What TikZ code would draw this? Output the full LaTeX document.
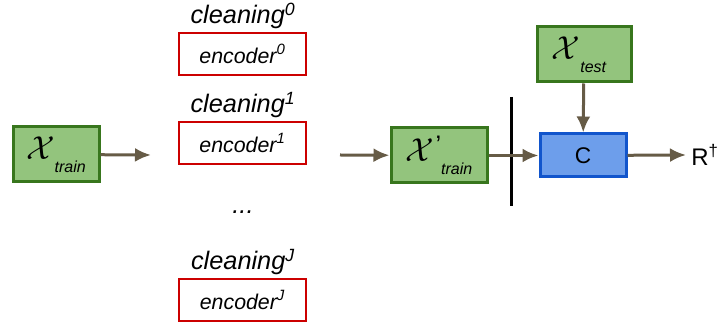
\documentclass[tikz,border=0pt]{standalone}
\usepackage{fontspec}
\setmainfont{Liberation Sans}
\usetikzlibrary{arrows.meta}

\newlength{\du}
\setlength{\du}{0.75pt}

\definecolor{datafill}{HTML}{93C47D}
\definecolor{dataline}{HTML}{38761D}
\definecolor{encline}{HTML}{CC0000}
\definecolor{clffill}{HTML}{6D9EEB}
\definecolor{clfline}{HTML}{1155CC}
\definecolor{flowcolor}{RGB}{102,91,70}

\newcommand{\dataset}[2]{{\fontsize{27}{27}\selectfont$\mathcal{X}$}#1\raisebox{-10pt}{\fontsize{12}{12}\selectfont\itshape #2}}

\tikzset{
  databox/.style={draw=dataline, fill=datafill, line width=3\du, inner sep=0pt},
  encbox/.style={draw=encline, line width=2.5\du, minimum width=127\du, minimum height=42\du,
    inner sep=0pt, font=\fontsize{16}{16}\selectfont\itshape},
  steplabel/.style={font=\fontsize{19}{19}\selectfont\itshape, inner sep=0pt},
  clfbox/.style={draw=clfline, fill=clffill, line width=3\du, minimum width=86\du, minimum height=43\du,
    inner sep=0pt, font=\fontsize{17}{17}\selectfont},
  flow/.style={draw=flowcolor, line width=3\du, -{Latex[length=12pt, width=10.5pt]}}
}

\begin{document}
\begin{tikzpicture}
\useasboundingbox (0\du,0\du) rectangle (719\du,-327\du);
\pgftransformyscale{-1.000000}

% input data
\node[databox, minimum width=86\du, minimum height=55\du] (xtrain) at (56\du,154.5\du) {\dataset{}{train}};

% cleaning steps
\node[steplabel] (clean0) at (243\du,16\du) {cleaning\textsuperscript{0}};
\node[encbox] (enc0) at (242.5\du,54\du) {encoder\textsuperscript{0}};
\node[steplabel] (clean1) at (243\du,105\du) {cleaning\textsuperscript{1}};
\node[encbox] (enc1) at (242.5\du,143\du) {encoder\textsuperscript{1}};
\node[steplabel] (dots) at (243\du,212\du) {...};
\node[steplabel] (cleanJ) at (243\du,262\du) {cleaning\textsuperscript{J}};
\node[encbox] (encJ) at (242.5\du,300\du) {encoder\textsuperscript{J}};

\coordinate (cleanin) at (151\du,155\du);
\coordinate (cleanout) at (340\du,155\du);

% cleaned data and classifier
\node[databox, minimum width=96\du, minimum height=55\du] (xclean) at (439\du,155.5\du) {\dataset{\kern1pt\raisebox{6pt}{\fontsize{19}{19}\selectfont'}}{train}};
\node[databox, minimum width=94\du, minimum height=55\du] (xtest) at (584\du,54.5\du) {\kern-10\du\dataset{}{test}};
\node[clfbox] (clf) at (583\du,155.5\du) {C};
\node[anchor=west, inner sep=0pt, font=\fontsize{18}{18}\selectfont] (result) at (691\du,155\du) {R\textsuperscript{\dag}};

% split line
\draw[line width=3\du] (511\du,97\du) -- (511\du,206\du);

\draw[flow] (xtrain) -- (cleanin);
\draw[flow] (cleanout) -- (xclean);
\draw[flow] (xclean) -- (clf);
\draw[flow] (xtest) -- (clf);
\draw[flow] (clf) -- ([xshift=-5\du]result.west);
\end{tikzpicture}
\end{document}
